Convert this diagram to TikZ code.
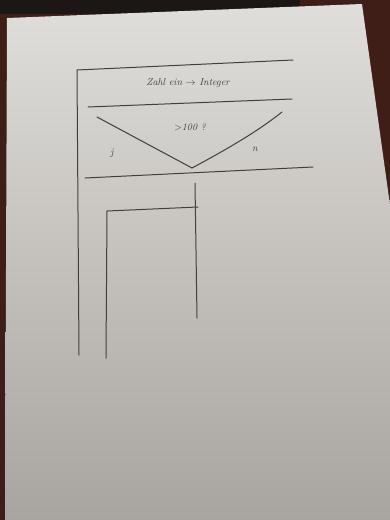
\documentclass[tikz,border=0pt]{standalone}
\begin{document}
\definecolor{wood}{RGB}{62,30,22}
\definecolor{darkbg}{RGB}{28,22,20}
\definecolor{papertop}{RGB}{224,222,218}
\definecolor{paperbot}{RGB}{168,164,159}
\definecolor{pencil}{RGB}{66,62,60}
\begin{tikzpicture}[x=1pt,y=-1pt,
  pen/.style={draw=pencil, line width=1pt, line cap=round},
  hand/.style={font=\itshape\normalsize, text=pencil, inner sep=0pt}]
\useasboundingbox (0,0) rectangle (390,520);
% background (table)
\fill[wood] (0,0) rectangle (390,520);
\fill[darkbg] (0,0) rectangle (300,14);
% paper
\shade[top color=papertop, bottom color=paperbot]
  (7,18) -- (362,4) -- (390,205) -- (390,520) -- (5,520) -- cycle;
% coordinates of the structogram
\coordinate (tl) at (77,70);
\coordinate (tr) at (293,60);
\coordinate (bl) at (79,355);
\coordinate (s1l) at (88,107);
\coordinate (s1r) at (292,99);
\coordinate (vl) at (97,117);
\coordinate (vb) at (192,168);
\coordinate (vr) at (282,112);
\coordinate (s2l) at (85,178);
\coordinate (s2r) at (313,167);
\coordinate (nt) at (195,183);
\coordinate (nb) at (197,318);
\coordinate (jl) at (107,211);
\coordinate (jr) at (198,207);
\coordinate (jb) at (106,358);
% lines
\draw[pen] (tl) -- (tr);
\draw[pen] (tl) -- (bl);
\draw[pen] (s1l) -- (s1r);
\draw[pen] (vl) -- (vb);
\draw[pen] (vb) .. controls (235,145) and (262,128) .. (vr);
\draw[pen] (s2l) -- (s2r);
\draw[pen] (nt) -- (nb);
\draw[pen] (jl) -- (jr);
\draw[pen] (jl) -- (jb);
% texts
\node[hand] (t1) at (188,83) {Zahl ein $\rightarrow$ Integer};
\node[hand] (t2) at (190,127) {$>$100 ?};
\node[hand] (tj) at (112,153) {j};
\node[hand] (tn) at (255,149) {n};
\end{tikzpicture}
\end{document}
